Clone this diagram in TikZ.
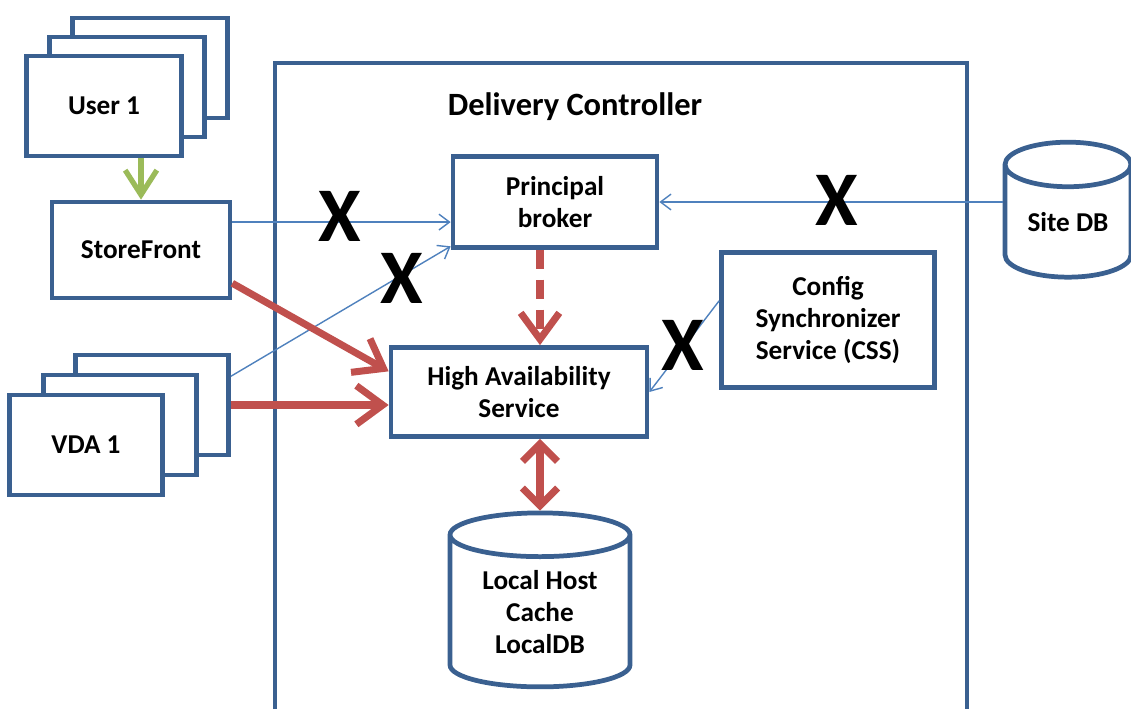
\documentclass[tikz,border=0pt]{standalone}
\usepackage{fontspec}
\setmainfont{Carlito}
\usetikzlibrary{arrows.meta, shapes.geometric}

\definecolor{boxblue}{HTML}{3A6090}
\definecolor{thinblue}{HTML}{4F81BD}
\definecolor{arrowred}{HTML}{C0504D}
\definecolor{arrowgreen}{HTML}{9BBB59}

\begin{document}
\begin{tikzpicture}[
  x=0.02cm, y=-0.02cm,
  every node/.style={font=\fontsize{15.5}{18}\selectfont\bfseries, align=center},
  box/.style={draw=boxblue, line width=2.7pt, fill=white, inner sep=0pt},
  db/.style={cylinder, shape border rotate=90, draw=boxblue, line width=2.7pt, fill=white, inner sep=0pt},
  thin/.style={-{Straight Barb[length=6pt, width=9pt]}, line width=0.8pt, draw=thinblue},
  redarrow/.style={-{Straight Barb[length=15pt, width=22pt]}, line width=4pt, draw=arrowred},
  cross/.style={font=\fontsize{44}{44}\selectfont\bfseries, inner sep=0pt}
]
\useasboundingbox (0,0) rectangle (1131,709);

% CONTROLLER FRAME
\draw[boxblue, line width=2.7pt] (275,709) |- (967,63) -- (967,709);
\node[font=\fontsize{18.5}{22}\selectfont\bfseries] (title) at (575,107) {Delivery Controller};

% USERS
\node[box, minimum width=3.1cm, minimum height=2cm] (user3) at (150,68) {};
\node[box, minimum width=3.1cm, minimum height=2cm] (user2) at (127,87) {};
\node[box, minimum width=3.1cm, minimum height=2cm] (user1) at (104,106) {User 1};

\node[box, minimum width=3.56cm, minimum height=1.92cm] (store) at (141,250) {StoreFront};

% VDAS
\node[box, minimum width=3.06cm, minimum height=2cm] (vda3) at (152,405) {};
\node[box, minimum width=3.06cm, minimum height=2cm] (vda2) at (120,425) {};
\node[box, minimum width=3.06cm, minimum height=2cm] (vda1) at (86,445) {VDA 1};

\node[box, minimum width=4.08cm, minimum height=1.82cm] (broker) at (555,202) {Principal\\broker};
\node[box, minimum width=5.12cm, minimum height=1.78cm] (has) at (519,392) {High Availability\\Service};
\node[box, minimum width=4.26cm, minimum height=2.7cm] (css) at (828,320) {Config\\Synchronizer\\Service (CSS)};

\node[db, aspect=0.55, minimum width=2.52cm, minimum height=2.7cm] (sitedb) at (1068,222) {Site DB};
\node[db, aspect=0.38, minimum width=3.6cm, minimum height=3.48cm] (localdb) at (540,612) {Local Host\\Cache\\LocalDB};

% CONNECTORS
\draw[-{Straight Barb[length=14pt, width=18pt]}, line width=3pt, arrowgreen] (store.north |- user1.south) -- (store.north);

\draw[thin] (store.17.5) -- (store.17.5 -| broker.west);
\draw[thin] (vda3.20) -- (broker.203);
\draw[thin] (sitedb.west |- broker.east) -- (broker.east);
\draw[thin] (css.170) -- (has.east);

\draw[redarrow] (store.-20) -- (has.171);
\draw[redarrow] (vda3.east) -- (vda3.east -| has.west);
\draw[redarrow, dash pattern=on 11pt off 6pt] (broker.south -| localdb.north) -- (has.north -| localdb.north);
\draw[redarrow, {Straight Barb[length=10pt, width=20pt]}-{Straight Barb[length=10pt, width=20pt]}] (has.south -| localdb.north) -- (localdb.north);

% BROKEN LINKS
\node[cross] (x1) at (340,216) {X};
\node[cross] (x2) at (402,278) {X};
\node[cross] (x3) at (837,200) {X};
\node[cross] (x4) at (683,345) {X};

\end{tikzpicture}
\end{document}
